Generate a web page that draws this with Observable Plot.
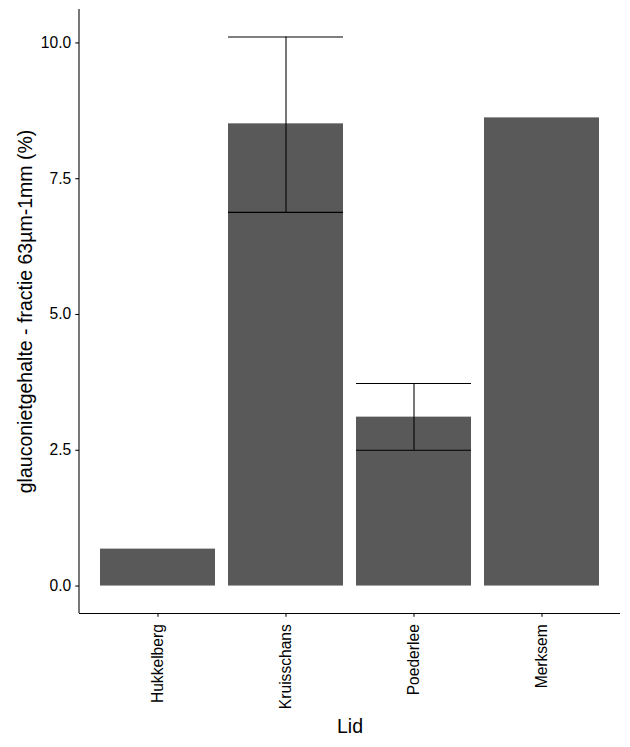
<!DOCTYPE html>
<html>
<head>
<meta charset="utf-8">
<script src="https://cdn.jsdelivr.net/npm/d3@7"></script>
<script src="https://cdn.jsdelivr.net/npm/@observablehq/plot@0.6"></script>
<style>
  html, body { margin: 0; padding: 0; background: #ffffff; }
  #chart { width: 630px; height: 747px; }
  svg { font-family: "Liberation Sans", Arial, sans-serif; }
</style>
</head>
<body>
<div id="chart"></div>
<script>
// ---- data ----
const lids   = ["Hukkelberg", "Kruisschans", "Poederlee", "Merksem"];
const means  = [0.68, 8.51, 3.11, 8.62];
const errLo  = [null, 6.88, 2.50, null];
const errHi  = [null, 10.11, 3.73, null];
const yTicks = [0, 2.5, 5, 7.5, 10];
const xTitle = "Lid";
const yTitle = "glauconietgehalte - fractie 63µm-1mm (%)";

const rows = lids.map((lid, i) => ({lid, mean: means[i], lo: errLo[i], hi: errHi[i]}));
const errRows = rows.filter(d => d.lo != null && d.hi != null);

// ggplot-style 5% expansion of the data range [0, max]
const yMaxData = d3.max([...means, ...errHi.filter(v => v != null)]);
const yMinData = 0;
const ext = (yMaxData - yMinData) * 0.05;
const yDomain = [yMinData - ext, yMaxData + ext];

const axisLine = (index, scales, values, dimensions) => {
  const {marginLeft, marginTop, height, marginBottom} = dimensions;
  const l = d3.create("svg:line")
    .attr("x1", marginLeft).attr("x2", marginLeft)
    .attr("y1", marginTop).attr("y2", height - marginBottom)
    .attr("stroke", "black").attr("stroke-width", 1.07);
  return l.node();
};

const chart = Plot.plot({
  width: 630,
  height: 747,
  marginLeft: 79,
  marginRight: 10,
  marginTop: 9,
  marginBottom: 134,
  style: {background: "white", color: "black", fontFamily: "'Liberation Sans', Arial, sans-serif"},
  x: {domain: lids, paddingInner: 0.1, paddingOuter: 0.15, label: null},
  y: {domain: yDomain, label: null},
  marks: [
    Plot.barY(rows, {x: "lid", y1: 0, y2: "mean", fill: "#595959"}),
    Plot.ruleX(errRows, {x: "lid", y1: "lo", y2: "hi", stroke: "black", strokeWidth: 1.07}),
    Plot.tickY(errRows, {x: "lid", y: "lo", stroke: "black", strokeWidth: 1.07}),
    Plot.tickY(errRows, {x: "lid", y: "hi", stroke: "black", strokeWidth: 1.07}),
    Plot.axisY({ticks: yTicks, tickFormat: d3.format(".1f"), tickSize: 3.7, tickPadding: 4.6,
                fontSize: 15.6, label: null, strokeWidth: 1.07}),
    Plot.axisX({tickRotate: -90, tickSize: 3.7, tickPadding: 7, fontSize: 15.6, label: null, strokeWidth: 1.07}),
    Plot.ruleY([yDomain[0]], {stroke: "black", strokeWidth: 1.07}),
    axisLine,
    Plot.text([yTitle], {frameAnchor: "left", rotate: -90, dx: -48, lineAnchor: "bottom",
                         textAnchor: "middle", fontSize: 19.5, fill: "black"}),
    Plot.text([xTitle], {frameAnchor: "bottom", dy: 119, lineAnchor: "bottom",
                         textAnchor: "middle", fontSize: 19.5, fill: "black"})
  ]
});
document.getElementById("chart").appendChild(chart);
</script>
</body>
</html>
